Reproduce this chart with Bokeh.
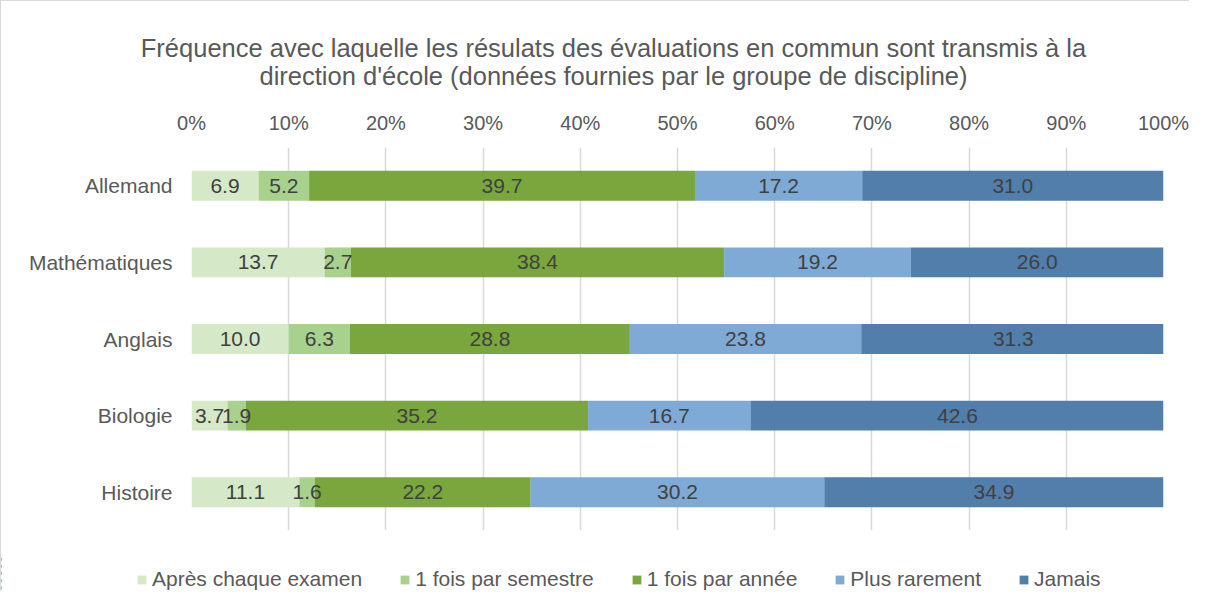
from bokeh.plotting import figure
from bokeh.models import ColumnDataSource, FactorRange, Range1d, FixedTicker, Legend, LegendItem, Label
from bokeh.core.properties import value
from bokeh.embed import file_html
from bokeh.resources import INLINE

subjects = ["Allemand", "Mathématiques", "Anglais", "Biologie", "Histoire"]
series = ["Après chaque examen", "1 fois par semestre", "1 fois par année", "Plus rarement", "Jamais"]
apres = [6.9, 13.7, 10.0, 3.7, 11.1]
semestre = [5.2, 2.7, 6.3, 1.9, 1.6]
annee = [39.7, 38.4, 28.8, 35.2, 22.2]
rarement = [17.2, 19.2, 23.8, 16.7, 30.2]
jamais = [31.0, 26.0, 31.3, 42.6, 34.9]
tick_values = [0, 10, 20, 30, 40, 50, 60, 70, 80, 90, 100]
tick_labels = ["0%", "10%", "20%", "30%", "40%", "50%", "60%", "70%", "80%", "90%", "100%"]
title_lines = ["Fréquence avec laquelle les résulats des évaluations en commun sont transmis à la",
               "direction d'école (données fournies par le groupe de discipline)"]

colors = ["#D5E9C8", "#A9D18E", "#7AA63E", "#7FAAD5", "#517EAB"]
keys = ["apres", "semestre", "annee", "rarement", "jamais"]
values = [apres, semestre, annee, rarement, jamais]

FONT = "Liberation Sans"
W = 1189
BORDER = "1px solid #d9d9d9"

data = {"subject": subjects}
for k, v in zip(keys, values):
    data[k] = v
source = ColumnDataSource(data)

# ---------------- header (title) ----------------
head = figure(width=W, height=99, output_backend="svg", toolbar_location=None,
              x_range=Range1d(0, 1), y_range=Range1d(0, 1), x_axis_type=None, y_axis_type=None,
              min_border=0, min_border_left=0, min_border_right=0, min_border_top=0, min_border_bottom=0)
head.outline_line_color = None
head.xgrid.visible = False
head.ygrid.visible = False
head.styles = {"border-left": BORDER, "border-top": BORDER}
for j, line in enumerate(title_lines):
    head.add_layout(Label(x=612, y=52.5 - 28 * j, x_units="screen", y_units="screen", text=line,
                          text_align="center", text_baseline="alphabetic", text_font=FONT,
                          text_font_size="25.5px", text_color="#595959"))

# ---------------- main chart ----------------
p = figure(width=W, height=456, output_backend="svg", toolbar_location=None,
           y_range=FactorRange(*reversed(subjects)), x_range=Range1d(0, 100),
           x_axis_location="above",
           min_border_left=190, min_border_right=27, min_border_top=48, min_border_bottom=25)
p.styles = {"border-left": BORDER}
p.outline_line_color = None

renderers = p.hbar_stack(keys, y="subject", height=0.39, color=colors, source=source, line_color=None)

lx, ly, lt = [], [], []
for i, s in enumerate(subjects):
    cum = 0.0
    for v in values:
        val = v[i]
        lx.append(cum + val / 2.0)
        ly.append(s)
        lt.append("%.1f" % val)
        cum += val
p.text(x=lx, y=ly, text=lt, text_align="center", text_baseline="middle",
       text_font=value(FONT), text_font_size="21px", text_color="#404040")

xa = p.xaxis[0]
xa.ticker = FixedTicker(ticks=tick_values)
xa.major_label_overrides = {t: l for t, l in zip(tick_values, tick_labels)}
xa.axis_line_color = None
xa.major_tick_line_color = None
xa.minor_tick_line_color = None
xa.major_label_text_font = FONT
xa.major_label_text_font_size = "20px"
xa.major_label_text_color = "#595959"
xa.major_label_standoff = 8

ya = p.yaxis[0]
ya.axis_line_color = None
ya.major_tick_line_color = None
ya.minor_tick_line_color = None
ya.major_label_text_font = FONT
ya.major_label_text_font_size = "21px"
ya.major_label_text_color = "#595959"
ya.major_label_standoff = 13

p.xgrid.ticker = FixedTicker(ticks=tick_values)
p.xgrid.grid_line_color = "#d9d9d9"
p.xgrid.grid_line_width = 1.5
p.ygrid.grid_line_color = None

# ---------------- legend strip ----------------
leg = figure(width=W, height=36, output_backend="svg", toolbar_location=None,
             x_range=Range1d(1000, 1001), y_range=FactorRange(*reversed(subjects)),
             x_axis_type=None, y_axis_type=None,
             min_border=0, min_border_left=0, min_border_right=0, min_border_top=0, min_border_bottom=0)
leg.outline_line_color = None
leg.xgrid.visible = False
leg.ygrid.visible = False
leg.styles = {"border-left": BORDER}
swatches = leg.hbar_stack(keys, y="subject", height=0.39, color=colors, source=source, line_color=None)
legend = Legend(items=[LegendItem(label=s, renderers=[r]) for s, r in zip(series, swatches)],
                orientation="horizontal", location=(135, 0),
                label_text_font=FONT, label_text_font_size="21px", label_text_color="#595959",
                glyph_width=11, glyph_height=11, label_standoff=5, spacing=37,
                padding=0, margin=0, border_line_color=None, background_fill_alpha=0,
                label_height=24)
leg.add_layout(legend, "center")

open("out.html", "w").write(file_html([head, p, leg], INLINE))
